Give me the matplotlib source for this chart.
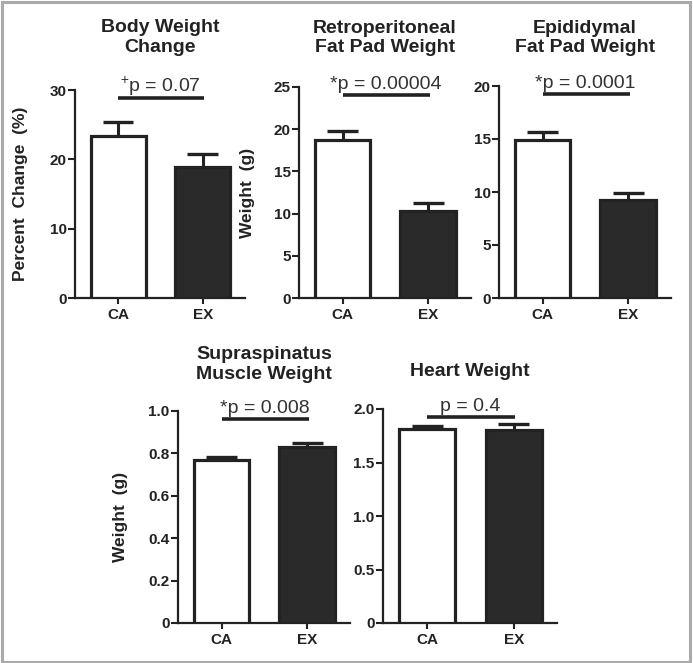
import matplotlib
matplotlib.use('Agg')
import matplotlib.pyplot as plt
from matplotlib.patches import Rectangle

plt.rcParams['font.family'] = ['Liberation Sans', 'DejaVu Sans']
plt.rcParams['mathtext.fontset'] = 'custom'
plt.rcParams['mathtext.rm'] = 'Liberation Sans'

# ---------------- data ----------------
groups = ['CA', 'EX']
titles = ['Body Weight\nChange', 'Retroperitoneal\nFat Pad Weight',
          'Epididymal\nFat Pad Weight', 'Supraspinatus\nMuscle Weight',
          'Heart Weight']
ylabels = ['Percent  Change  (%)', 'Weight  (g)', '', 'Weight  (g)', '']

body_mean = [23.4, 18.9]
body_sem = [2.0, 1.8]
retro_mean = [18.7, 10.3]
retro_sem = [1.1, 0.9]
epi_mean = [14.9, 9.25]
epi_sem = [0.8, 0.7]
supra_mean = [0.769, 0.832]
supra_sem = [0.013, 0.016]
heart_mean = [1.81, 1.80]
heart_sem = [0.03, 0.06]

p_labels = [r'$^{+}$p = 0.07', '*p = 0.00004', '*p = 0.0001', '*p = 0.008', 'p = 0.4']

y_max = [30, 25, 20, 1.0, 2.0]
y_ticks = [[0, 10, 20, 30], [0, 5, 10, 15, 20, 25], [0, 5, 10, 15, 20],
           [0, 0.2, 0.4, 0.6, 0.8, 1.0], [0, 0.5, 1.0, 1.5, 2.0]]
y_ticklabels = [['0', '10', '20', '30'], ['0', '5', '10', '15', '20', '25'],
                ['0', '5', '10', '15', '20'],
                ['0', '0.2', '0.4', '0.6', '0.8', '1.0'],
                ['0', '0.5', '1.0', '1.5', '2.0']]

means = [body_mean, retro_mean, epi_mean, supra_mean, heart_mean]
sems = [body_sem, retro_sem, epi_sem, supra_sem, heart_sem]

# ---------------- layout (pixels: left, top, right, bottom) ----------------
W, H = 693, 663
boxes = [(75, 90, 245, 298), (299, 87, 471, 298), (499, 86, 671, 298),
         (178, 411, 350, 623), (383, 409, 557, 623)]
title_y = [37.5, 38, 38, 364.5, 371]
ylabel_x = [28, 255, None, 128, None]

ink = '#222222'
dark = '#2a2a2a'

fig = plt.figure(figsize=(W / 100, H / 100), dpi=100)
fig.patch.set_facecolor('white')

for i in range(5):
    l, t, r, b = boxes[i]
    ax = fig.add_axes([l / W, 1 - b / H, (r - l) / W, (b - t) / H])
    x = [0, 1]
    ax.bar(x, means[i], width=0.65, color=['white', dark], edgecolor=ink,
           linewidth=2.3, zorder=3)
    tops = [m + s for m, s in zip(means[i], sems[i])]
    ax.vlines(x, means[i], tops, color=ink, linewidth=2.2, zorder=2)
    ax.hlines(tops, [xx - 0.18 for xx in x], [xx + 0.18 for xx in x],
              color=ink, linewidth=2.4, zorder=2)

    ax.set_xlim(-0.51, 1.5)
    ax.set_ylim(0, y_max[i])
    ax.set_xticks(x)
    ax.set_xticklabels(groups, fontsize=11, fontweight='bold', color=ink)
    ax.set_yticks(y_ticks[i])
    ax.set_yticklabels(y_ticklabels[i], fontsize=11, fontweight='bold', color=ink)
    ax.tick_params(axis='y', length=5, width=1.5, pad=1, color=ink)
    ax.tick_params(axis='x', length=4, width=1.5, pad=3, color=ink)
    for s in ['top', 'right']:
        ax.spines[s].set_visible(False)
    for s in ['left', 'bottom']:
        ax.spines[s].set_linewidth(1.6)
        ax.spines[s].set_color(ink)
    ax.set_facecolor('none')

    if ylabels[i]:
        ax.set_ylabel(ylabels[i], fontsize=12.5, fontweight='bold', color=ink)
        ax.yaxis.set_label_coords((ylabel_x[i] - l) / (r - l), 0.5)

    # significance bar
    ly = 0.963 * y_max[i]
    ax.plot([0, 1.02], [ly, ly], color=ink, linewidth=2.6, clip_on=False,
            solid_capstyle='butt', zorder=4)
    ax.annotate(p_labels[i], xy=(0.5, ly), xytext=(0, 4.5),
                textcoords='offset points', ha='center', va='baseline',
                fontsize=14, color='#333333', annotation_clip=False)

    fig.text((l + r) / 2 / W, 1 - title_y[i] / H, titles[i], ha='center',
             va='center', fontsize=14, fontweight='bold', color=ink,
             linespacing=1.17)

fig.add_artist(Rectangle((1.5 / W, 1.5 / H), (W - 4.5) / W, (H - 3) / H,
                         transform=fig.transFigure, fill=False,
                         edgecolor='#aaaaaa', linewidth=2.2))

fig.savefig('out.png', dpi=100, facecolor='white')
